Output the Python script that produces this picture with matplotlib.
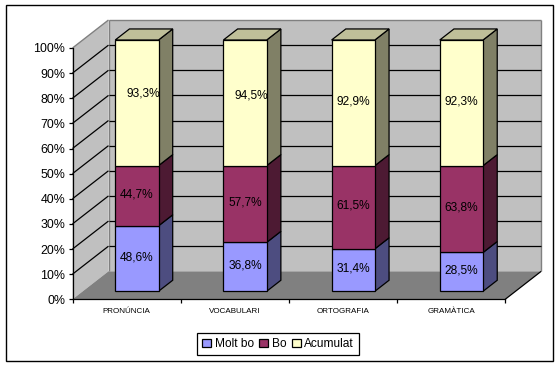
import matplotlib
matplotlib.use('Agg')
import matplotlib.pyplot as plt
from matplotlib.patches import Polygon, Rectangle

plt.rcParams['font.family'] = ['Liberation Sans', 'DejaVu Sans']

categories = ['PRONÚNCIA', 'VOCABULARI', 'ORTOGRAFIA', 'GRAMÀTICA']
molt_bo = [48.6, 36.8, 31.4, 28.5]
bo = [44.7, 57.7, 61.5, 63.8]
acumulat = [93.3, 94.5, 92.9, 92.3]
series_names = ['Molt bo', 'Bo', 'Acumulat']
yticks = [0, 10, 20, 30, 40, 50, 60, 70, 80, 90, 100]

W, H = 559, 367
fig = plt.figure(figsize=(W / 100, H / 100), dpi=100, facecolor='white')

# outer chart border
fig.add_artist(Rectangle((5.5 / W, 1 - 361 / H), 547 / W, 356 / H, transform=fig.transFigure,
                         fc='white', ec='black', lw=1, zorder=-1))

# front plane of the 3d box
left, right, top, bottom = 72.5, 505.2, 48, 299.3
ax = fig.add_axes([left / W, 1 - bottom / H, (right - left) / W, (bottom - top) / H])
ax.set_xlim(0, 4)
ax.set_ylim(0, 100)
ax.patch.set_visible(False)
for s in ['top', 'right']:
    ax.spines[s].set_visible(False)
for s in ['left', 'bottom']:
    ax.spines[s].set_linewidth(0.9)
    ax.spines[s].set_zorder(20)

# depth of the box in data units
dx = 36 / (right - left) * 4
dy = 28 / (bottom - top) * 100


def pt(x, y, d):
    return (x + dx * d, y + dy * d)


def face(points, color, edge='none', lw=0.0, z=1):
    ax.add_patch(Polygon([pt(*p) for p in points], closed=True, fc=color, ec=edge, lw=lw,
                         zorder=z, clip_on=False))


def line(p0, p1, color='black', lw=0.9, z=2):
    a, b = pt(*p0), pt(*p1)
    ax.plot([a[0], b[0]], [a[1], b[1]], color=color, lw=lw, zorder=z, clip_on=False,
            solid_capstyle='butt')


# walls and floor
face([(0, 0, 0), (0, 0, 1), (0, 100, 1), (0, 100, 0)], '#C0C0C0', z=1)
face([(0, 0, 1), (4, 0, 1), (4, 100, 1), (0, 100, 1)], '#C0C0C0', z=1)
face([(0, 0, 0), (4, 0, 0), (4, 0, 1), (0, 0, 1)], '#808080', z=1)
line((0, 0, 1), (0, 100, 1), '#808080', 1.0)
line((0, 100, 1), (4, 100, 1), '#808080', 1.0)
line((4, 100, 1), (4, 0, 1), '#808080', 1.0)
line((0, 100, 0), (0, 100, 1), '#808080', 1.0)
line((4, 0, 0), (4, 0, 1), 'black', 0.9)
for v in yticks[1:-1]:
    line((0, v, 0), (0, v, 1))
    line((0, v, 1), (4, v, 1))

# stacked bars, 100% of each category
bar_w = 0.4
d0, d1 = 0.286, 0.68
colors = ['#9999FF', '#993366', '#FFFFCC']
sides = ['#4D4D80', '#4D1A33', '#808066']
top_color = '#BFBF99'
# some labels were moved by hand in the original (px)
label_shift = {(0, 2): (6, 9), (1, 2): (6, 7)}

for i in range(len(categories)):
    vals = [molt_bo[i], bo[i], acumulat[i]]
    total = sum(vals)
    x0 = i + 0.5 - bar_w / 2
    x1 = x0 + bar_w
    base = 0
    for j, v in enumerate(vals):
        h = v / total * 100
        y0, y1 = base, base + h
        z = 5 + i
        face([(x1, y0, d0), (x1, y0, d1), (x1, y1, d1), (x1, y1, d0)], sides[j], 'black', 0.9, z)
        face([(x0, y0, d0), (x1, y0, d0), (x1, y1, d0), (x0, y1, d0)], colors[j], 'black', 0.9, z)
        if j == 2:
            face([(x0, y1, d0), (x1, y1, d0), (x1, y1, d1), (x0, y1, d1)], top_color, 'black', 0.9, z)
        cx, cy = pt((x0 + x1) / 2, (y0 + y1) / 2, d0)
        sx, sy = label_shift.get((i, j), (0, 1.5))
        ax.annotate(f'{v:.1f}%'.replace('.', ','), (cx, cy), xytext=(sx * 0.72, sy * 0.72),
                    textcoords='offset points', ha='center', va='center', fontsize=8.6,
                    color='black', zorder=30, annotation_clip=False)
        base = y1

# axes ticks and labels
ax.set_yticks(yticks)
ax.set_yticklabels([f'{v}%' for v in yticks], fontsize=8.9)
ax.tick_params(axis='y', length=3, width=0.9, pad=2.2)
ax.set_xticks(range(5))
ax.set_xticklabels([])
ax.tick_params(axis='x', which='major', length=3, width=0.9)
ax.set_xticks([i + 0.5 for i in range(4)], minor=True)
ax.set_xticklabels(categories, minor=True, fontsize=5.8)
ax.tick_params(axis='x', which='minor', length=0, pad=6.5)

handles = [Rectangle((0, 0), 1, 1, fc=c, ec='black', lw=0.9) for c in colors]
leg = fig.legend(handles, series_names, loc='center', bbox_to_anchor=(278 / W, 1 - 344.2 / H),
                 ncol=3, fontsize=8.6, frameon=True, fancybox=False, framealpha=1,
                 edgecolor='black', handlelength=0.75, handleheight=0.75, handletextpad=0.3,
                 columnspacing=0.45, borderpad=0.4, borderaxespad=0)
leg.get_frame().set_linewidth(0.9)

fig.savefig('out.png', dpi=100)
